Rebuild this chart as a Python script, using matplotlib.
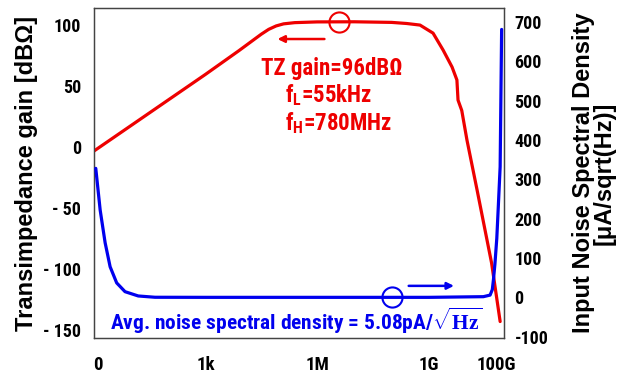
import matplotlib
matplotlib.use("Agg")
import matplotlib.pyplot as plt
from matplotlib import font_manager as fm
from matplotlib.transforms import ScaledTranslation
import numpy as np

# ---------------- data ----------------
gain_logf = [0.0, 1.0, 2.0, 3.0, 3.9, 4.1, 4.3, 4.5, 4.7, 4.9, 5.1, 5.4, 6.0, 7.0,
             8.0, 8.4, 8.76, 9.11, 9.38, 9.62, 9.75, 9.78, 9.88, 10.02, 10.29,
             10.68, 10.91]
gain_db = [-3.5, 17.5, 38.5, 59.5, 79.0, 83.5, 88.0, 92.5, 96.5, 99.3, 101.0, 102.0,
           102.6, 102.7, 102.2, 101.3, 100.0, 93.4, 79.5, 65.6, 55.0, 38.5, 30.0,
           5.7, -35.0, -95.0, -143.0]

noise_logf = [0.061, 0.179, 0.312, 0.446, 0.622, 0.846, 1.2, 1.65, 3.0, 6.0, 9.0,
              10.46, 10.64, 10.70, 10.73, 10.77, 10.82, 10.86, 10.91, 10.95]
noise_val = [328, 222, 139, 78, 37, 14.7, 3.8, 0.5, 0.3, 0.3, 0.3,
             2, 6, 20, 45, 85, 150, 230, 332, 681]

gain_marker = (6.59, 102.6)
noise_marker = (8.01, 0.3)

x_ticks = [1, 1e3, 1e6, 1e9, 1e11]
x_labels = ["0", "1k", "1M", "1G", "100G"]
left_ticks = [100, 50, 0, -50, -100, -150]
left_labels = ["100", "50", "0", "- 50", "- 100", "- 150"]
right_ticks = [700, 600, 500, 400, 300, 200, 100, 0, -100]
right_labels = ["700", "600", "500", "400", "300", "200", "100", "0", "-100"]

RED = "#ee0000"
BLUE = "#0000ee"

# ---------------- fonts ----------------
names = {f.name for f in fm.fontManager.ttflist}
narrow = None
for cand in ["Liberation Sans Narrow", "Arial Narrow", "DejaVu Sans Condensed",
             "Roboto Condensed"]:
    if cand in names:
        narrow = cand
        break
if narrow is None:
    narrow = "Liberation Sans"
    k_txt, k_tick = 0.84, 0.88
else:
    k_txt, k_tick = 1.0, 1.0

plt.rcParams["font.family"] = [narrow, "DejaVu Sans"]
plt.rcParams["font.weight"] = "bold"
plt.rcParams["mathtext.fontset"] = "custom"
plt.rcParams["mathtext.rm"] = narrow + ":bold"
plt.rcParams["mathtext.bf"] = "Liberation Serif:bold"
plt.rcParams["mathtext.it"] = narrow + ":bold"

fig = plt.figure(figsize=(6.21, 3.78), dpi=100)
ax = fig.add_axes([93.5/621, 40/378, 410/621, 330/378])
ax2 = ax.twinx()

f_gain = 10.0 ** np.array(gain_logf)
f_noise = 10.0 ** np.array(noise_logf)

ax.plot(f_gain, gain_db, color=RED, lw=2.3, solid_capstyle="round", zorder=3)
ax.plot([10 ** gain_marker[0]], [gain_marker[1]], marker="o", ms=14.5, mfc="none",
        mec=RED, mew=1.5, zorder=4)
ax2.plot(f_noise, noise_val, color=BLUE, lw=2.3, solid_capstyle="round", zorder=3)
ax2.plot([10 ** noise_marker[0]], [noise_marker[1]], marker="o", ms=14.5, mfc="none",
         mec=BLUE, mew=1.5, zorder=4)

ax.set_xscale("log")
ax.set_xlim(1, 1e11)
ax.set_ylim(-156.5, 114)
ax2.set_ylim(-103, 735.5)

ax.set_xticks(x_ticks)
ax.set_xticklabels(x_labels)
ax.minorticks_off()
ax.set_yticks(left_ticks)
ax.set_yticklabels(left_labels)
ax2.set_yticks(right_ticks)
ax2.set_yticklabels(right_labels)

ax.tick_params(axis="x", length=0, pad=13, labelsize=13.5 * k_tick)
ax.tick_params(axis="y", length=0, pad=9, labelsize=13 * k_tick)
ax2.tick_params(axis="y", length=0, pad=8, labelsize=13 * k_tick)
for t in ax.get_xticklabels() + ax.get_yticklabels() + ax2.get_yticklabels():
    t.set_fontweight("bold")
lbls = ax.get_xticklabels()
lbls[0].set_ha("left")
lbls[-1].set_transform(lbls[-1].get_transform() +
                       ScaledTranslation(-7/100, 0, fig.dpi_scale_trans))

for a in (ax, ax2):
    for s in a.spines.values():
        s.set_color("#444444")
        s.set_linewidth(0.9)

label_font = fm.FontProperties(family="Liberation Sans", weight="bold", size=17)
ax.set_ylabel("Transimpedance gain [dBΩ]", fontproperties=label_font)
ax2.set_ylabel("Input Noise Spectral Density\n[μA/sqrt(Hz)]",
               fontproperties=label_font, rotation=90, va="bottom",
               linespacing=0.9)
ax.yaxis.set_label_coords(-0.136, 0.5)
ax2.yaxis.set_label_coords(1.274, 0.5)

# annotations
ax.annotate("", xy=(0.442, 0.906), xytext=(0.570, 0.906), xycoords="axes fraction",
            arrowprops=dict(arrowstyle="-|>", color=RED, lw=1.8, mutation_scale=10))
ax.annotate("", xy=(0.886, 0.158), xytext=(0.762, 0.158), xycoords="axes fraction",
            arrowprops=dict(arrowstyle="-|>", color=BLUE, lw=1.8, mutation_scale=10))

ax.text(0.582, 0.797, "TZ gain=96dBΩ", transform=ax.transAxes, color=RED,
        fontsize=16.5 * k_txt, fontweight="bold", ha="center", va="baseline")
ax.text(0.467, 0.715, r"f$_{\mathrm{L}}$=55kHz", transform=ax.transAxes, color=RED,
        fontsize=16.5 * k_txt, fontweight="bold", ha="left", va="baseline")
ax.text(0.467, 0.630, r"f$_{\mathrm{H}}$=780MHz", transform=ax.transAxes, color=RED,
        fontsize=16.5 * k_txt, fontweight="bold", ha="left", va="baseline")
ax.text(0.493, 0.0242, r"Avg. noise spectral density = 5.08pA/$\sqrt{\mathbf{Hz}}$",
        transform=ax.transAxes, color=BLUE, fontsize=15.4 * k_txt, fontweight="bold",
        ha="center", va="baseline")

fig.savefig("out.png", dpi=100)
